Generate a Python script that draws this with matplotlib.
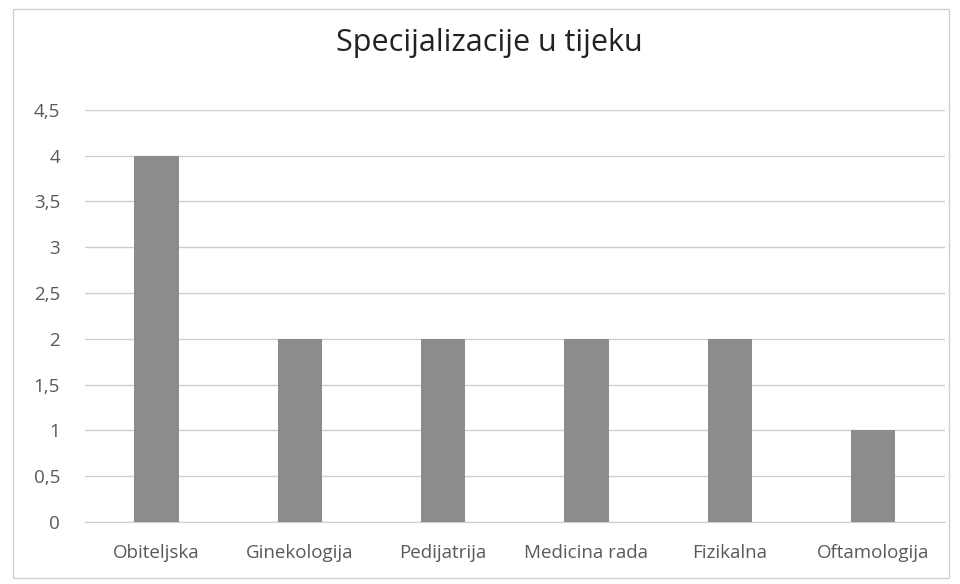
import matplotlib
matplotlib.use("Agg")
import matplotlib.pyplot as plt
from matplotlib.patches import Rectangle

categories = ["Obiteljska", "Ginekologija", "Pedijatrija", "Medicina rada", "Fizikalna", "Oftamologija"]
values = [4, 2, 2, 2, 2, 1]
yticks = [0, 0.5, 1, 1.5, 2, 2.5, 3, 3.5, 4, 4.5]
ytick_labels = ["0", "0,5", "1", "1,5", "2", "2,5", "3", "3,5", "4", "4,5"]
title = "Specijalizacije u tijeku"

plt.rcParams['font.family'] = ['Open Sans', 'DejaVu Sans']

fig = plt.figure(figsize=(9.6, 5.84), dpi=100)
ax = fig.add_axes([0.0885, 0.106, 0.8955, 0.706])

x = list(range(len(categories)))
ax.bar(x, values, width=0.31, color="#8c8c8c", zorder=3)
ax.set_xlim(-0.5, len(categories) - 0.5)
ax.set_ylim(0, 4.5)
ax.set_yticks(yticks)
ax.set_yticklabels(ytick_labels)
ax.set_xticks(x)
ax.set_xticklabels(categories)
ax.yaxis.grid(True, color="#cfcfcf", linewidth=1.0, zorder=0)
ax.tick_params(axis="both", length=0, labelsize=13.5, labelcolor="#595959")
ax.tick_params(axis="y", pad=18)
ax.tick_params(axis="x", pad=16)
for s in ["top", "right", "left"]:
    ax.spines[s].set_visible(False)
ax.spines["bottom"].set_color("#cfcfcf")

fig.text(0.51, 0.927, title, ha="center", va="center", fontsize=22, color="#222222")

fig.patches.append(Rectangle((0.014, 0.01), 0.975, 0.975, transform=fig.transFigure,
                             fill=False, edgecolor="#d0d0d0", linewidth=1.0))

fig.savefig("out.png", dpi=100)
